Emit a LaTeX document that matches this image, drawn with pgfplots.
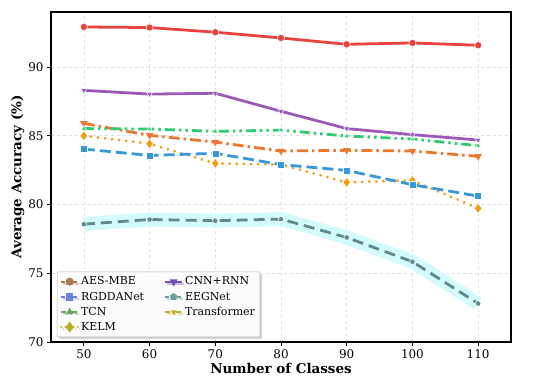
\documentclass[border=0pt]{standalone}
\usepackage{pgfplots}
\pgfplotsset{compat=1.18}
\usepackage{fontspec}
\setmainfont{DejaVu Serif}
\usetikzlibrary{shadows}
\definecolor{cred}{HTML}{E8433E}
\definecolor{cpurple}{HTML}{9B59B6}
\definecolor{cgreen}{HTML}{2ECC71}
\definecolor{ctrans}{HTML}{EE7730}
\definecolor{cblue}{HTML}{3498DB}
\definecolor{ckelm}{HTML}{F39C12}
\definecolor{ceeg}{HTML}{5F8A8B}
\definecolor{cglow}{HTML}{CFFBFB}
\definecolor{lbrown}{HTML}{A87A4E}
\definecolor{lblue}{HTML}{6A80DC}
\definecolor{lgreen}{HTML}{6AA462}
\definecolor{lolive}{HTML}{B8B020}
\definecolor{lpurple}{HTML}{7352B8}
\definecolor{lteal}{HTML}{6C9C9C}
\begin{document}
\begin{tikzpicture}
\begin{axis}[
  scale only axis,
  width=460bp, height=330bp,
  xmin=45, xmax=115, ymin=70, ymax=94,
  xtick={50,60,...,110}, ytick={70,75,80,85,90},
  axis line style={black, line width=1.6pt},
  tick style={black, line width=0.9pt},
  tick align=outside, major tick length=4bp,
  xtick pos=left, ytick pos=left,
  grid=major,
  grid style={dashed, gray!25, line width=0.6pt},
  tick label style={font=\fontsize{12}{14}\selectfont},
  /pgf/number format/assume math mode=true,
  xlabel={\textbf{Number of Classes}},
  ylabel={\textbf{Average Accuracy (\%)}},
  label style={font=\fontsize{13.5}{15}\selectfont},
  xlabel style={yshift=2.5bp},
  ylabel style={yshift=-3bp},
  legend columns=2,
  legend cell align=left,
  legend style={at={(0.013,0.015)}, anchor=south west, font=\fontsize{11}{13}\selectfont,
    draw=gray!60, fill=white, fill opacity=0.95, text opacity=1, rounded corners=1pt,
    drop shadow={shadow xshift=2bp, shadow yshift=-2bp, opacity=0.35},
    /tikz/every even column/.append style={column sep=18bp},
    row sep=1.5bp, inner sep=3bp},
  legend image post style={line width=2pt},
]
% EEGNet glow
\addplot[cglow, line width=14bp, opacity=0.9, forget plot] coordinates {(50,78.57)(60,78.91)(70,78.82)(80,78.94)(90,77.6)(100,75.84)(110,72.8)};
% EEGNet
\addplot[ceeg, line width=2.8pt, dash pattern=on 11bp off 6bp, mark=pentagon*, mark size=3pt, mark options={solid, fill=ceeg, draw=white, line width=0.5pt}, forget plot] coordinates {(50,78.57)(60,78.91)(70,78.82)(80,78.94)(90,77.6)(100,75.84)(110,72.8)};
% KELM
\addplot[ckelm, line width=3pt, dash pattern=on 0.1bp off 7bp, line cap=round, mark=diamond*, mark size=5pt, mark options={solid, fill=ckelm, draw=white, line width=0.5pt}, forget plot] coordinates {(50,85.0)(60,84.42)(70,82.99)(80,82.9)(90,81.61)(100,81.75)(110,79.72)};
% RGDDANet
\addplot[cblue, line width=2.8pt, dash pattern=on 11bp off 5bp, mark=square*, mark size=3.5pt, mark options={solid, fill=cblue, draw=white, line width=0.5pt}, forget plot] coordinates {(50,84.03)(60,83.57)(70,83.72)(80,82.9)(90,82.48)(100,81.44)(110,80.61)};
% Transformer
\addplot[ctrans, line width=2.8pt, dash pattern=on 11bp off 4bp on 2.5bp off 4bp, mark=triangle*, mark size=1.5pt, mark options={solid, rotate=180, fill=ctrans, draw=ctrans}, forget plot] coordinates {(50,85.9)(60,85.03)(70,84.54)(80,83.89)(90,83.94)(100,83.89)(110,83.50)};
% TCN
\addplot[cgreen, line width=2.8pt, dash pattern=on 10bp off 4bp on 2.5bp off 4bp on 2.5bp off 4bp, mark=triangle*, mark size=3pt, mark options={solid, fill=cgreen, draw=white, line width=0.5pt}, forget plot] coordinates {(50,85.52)(60,85.49)(70,85.32)(80,85.41)(90,84.98)(100,84.76)(110,84.28)};
% CNN+RNN
\addplot[cpurple, line width=2.8pt, mark=triangle*, mark size=3.5pt, mark options={solid, rotate=180, fill=cpurple, draw=white, line width=0.5pt}, forget plot] coordinates {(50,88.30)(60,88.03)(70,88.09)(80,86.78)(90,85.52)(100,85.08)(110,84.69)};
% AES-MBE
\addplot[cred, line width=2.8pt, mark=*, mark size=3.6pt, mark options={solid, fill=cred, draw=white, line width=0.5pt}, forget plot] coordinates {(50,92.91)(60,92.87)(70,92.53)(80,92.11)(90,91.65)(100,91.75)(110,91.58)};
% legend images (row-wise order for two columns)
\addlegendimage{lbrown, dash pattern=on 4bp off 2bp, mark=*, mark size=3pt, mark options={solid}}
\addlegendentry{AES-MBE}
\addlegendimage{lpurple, mark=triangle*, mark size=2.8pt, mark options={solid, rotate=180}}
\addlegendentry{CNN+RNN}
\addlegendimage{lblue, dash pattern=on 4bp off 2bp, mark=square*, mark size=2.8pt, mark options={solid}}
\addlegendentry{RGDDANet}
\addlegendimage{lteal, dash pattern=on 4bp off 2bp, mark=pentagon*, mark size=2.6pt, mark options={solid}}
\addlegendentry{EEGNet}
\addlegendimage{lgreen, dash pattern=on 5bp off 2bp on 1.5bp off 2bp, mark=triangle*, mark size=2.4pt, mark options={solid}}
\addlegendentry{TCN}
\addlegendimage{lolive, dash pattern=on 5bp off 2bp on 1.5bp off 2bp, mark=triangle*, mark size=1.4pt, mark options={solid, rotate=180}}
\addlegendentry{Transformer}
\addlegendimage{lolive, dash pattern=on 0.1bp off 4bp, line cap=round, mark=diamond*, mark size=3.8pt, mark options={solid}}
\addlegendentry{KELM}
\end{axis}
\useasboundingbox ([xshift=-51bp,yshift=-47bp]current axis.south west) rectangle ([xshift=39bp,yshift=12bp]current axis.north east);
\end{tikzpicture}
\end{document}
